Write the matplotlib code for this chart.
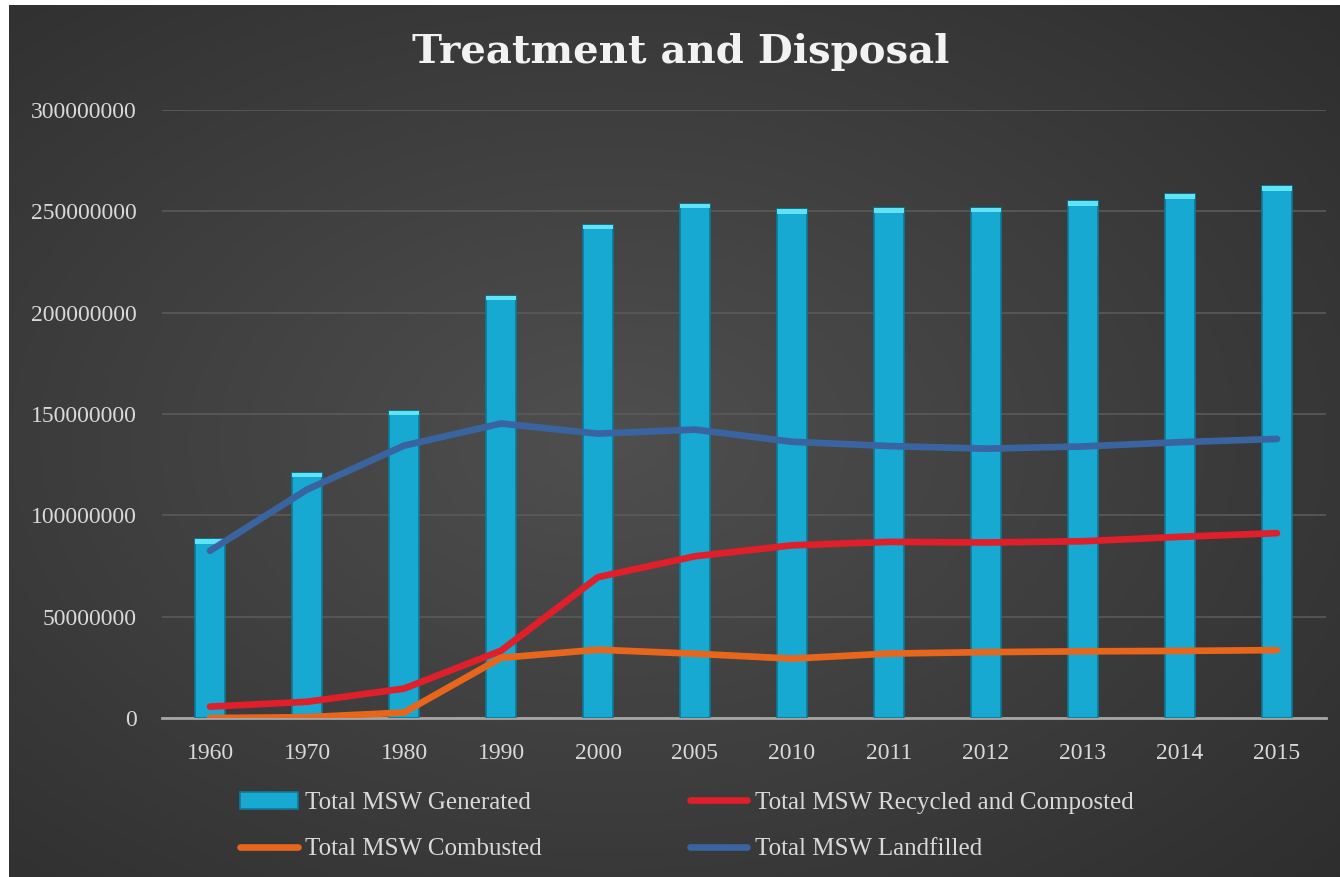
import numpy as np
import matplotlib.pyplot as plt
from matplotlib.patches import Rectangle

years = ['1960', '1970', '1980', '1990', '2000', '2005', '2010',
         '2011', '2012', '2013', '2014', '2015']
generated = [88.1e6, 121.1e6, 151.6e6, 208.3e6, 243.5e6, 253.7e6, 251.1e6,
             251.6e6, 251.8e6, 255.0e6, 258.5e6, 262.4e6]
recycled = [5.6e6, 8.0e6, 14.5e6, 33.2e6, 69.5e6, 79.8e6, 85.2e6,
            86.9e6, 86.6e6, 87.2e6, 89.4e6, 91.2e6]
combusted = [0.0, 0.4e6, 2.7e6, 29.7e6, 33.7e6, 31.7e6, 29.3e6,
             31.8e6, 32.5e6, 32.9e6, 33.1e6, 33.5e6]
landfilled = [82.5e6, 112.7e6, 134.4e6, 145.3e6, 140.3e6, 142.3e6, 136.3e6,
              134.2e6, 132.9e6, 134.0e6, 136.1e6, 137.7e6]
yticks = [0, 50000000, 100000000, 150000000, 200000000, 250000000, 300000000]

serif = ['Liberation Serif', 'DejaVu Serif']
txt = '#d9d9d9'

fig = plt.figure(figsize=(13.4, 8.77), dpi=100)
fig.patch.set_facecolor('white')

# radial gradient background
bg = fig.add_axes([9 / 1340, 0, 1 - 9 / 1340, 1 - 5 / 877], zorder=-10)
yy, xx = np.mgrid[0:1:400j, 0:1:600j]
r = np.sqrt(((xx - 0.45) / 0.8) ** 2 + ((yy - 0.5) / 0.8) ** 2)
shade = np.clip(0.31 - 0.14 * r, 0.165, 0.31)
bg.imshow(np.dstack([shade] * 3), aspect='auto', extent=[0, 1, 0, 1])
bg.axis('off')

ax = fig.add_axes([161.5 / 1340, 1 - 718 / 877, 1164 / 1340, 608 / 877])
ax.patch.set_alpha(0)
x = np.arange(len(years))

bars = ax.bar(x, generated, width=0.31, color='#17a9d1', edgecolor='#0d7a96',
              linewidth=1.2, zorder=2, label='Total MSW Generated')
for b in bars:
    # lighter cap to hint at the bevelled top
    ax.add_patch(Rectangle((b.get_x(), b.get_height() - 2.2e6), b.get_width(), 2.2e6,
                           facecolor='#5fe3f7', edgecolor='none', zorder=3))

l_land, = ax.plot(x, landfilled, color='#3a64a0', lw=4.8, solid_capstyle='round',
                  zorder=4, label='Total MSW Landfilled')
l_rec, = ax.plot(x, recycled, color='#e01f2a', lw=4.8, solid_capstyle='round',
                 zorder=5, label='Total MSW Recycled and Composted')
l_comb, = ax.plot(x, combusted, color='#e8661c', lw=4.8, solid_capstyle='round',
                  zorder=5, label='Total MSW Combusted')

ax.set_xlim(-0.5, len(years) - 0.5)
ax.set_ylim(0, 300000000)
ax.set_yticks(yticks)
ax.set_yticklabels([str(v) for v in yticks], fontfamily=serif, fontsize=17, color=txt)
ax.set_xticks(x)
ax.set_xticklabels(years, fontfamily=serif, fontsize=17, color=txt)
ax.tick_params(length=0)
ax.tick_params(axis='y', pad=18)
ax.tick_params(axis='x', pad=18)
ax.grid(axis='y', color='#5a5a5a', lw=1.2, zorder=0)
ax.set_axisbelow(True)
for s in ['top', 'right', 'left']:
    ax.spines[s].set_visible(False)
ax.spines['bottom'].set_color('#a6a6a6')
ax.spines['bottom'].set_linewidth(2)
ax.spines['bottom'].set_zorder(1)

fig.text(0.508, 1 - 52 / 877, 'Treatment and Disposal', ha='center', va='center',
         fontfamily=['DejaVu Serif'], fontweight='bold', fontsize=29, color='#f2f2f2')

leg = fig.legend([bars, l_comb, l_rec, l_land],
                 ['Total MSW Generated', 'Total MSW Combusted',
                  'Total MSW Recycled and Composted', 'Total MSW Landfilled'],
                 ncol=2, loc='center left', bbox_to_anchor=(218 / 1340, 1 - 826 / 877),
                 frameon=False, prop={'family': serif, 'size': 18},
                 handlelength=2.3, handletextpad=0.3, columnspacing=5.9,
                 labelspacing=0.95)
for t in leg.get_texts():
    t.set_color(txt)

fig.savefig('out.png', dpi=100, facecolor=fig.get_facecolor())
